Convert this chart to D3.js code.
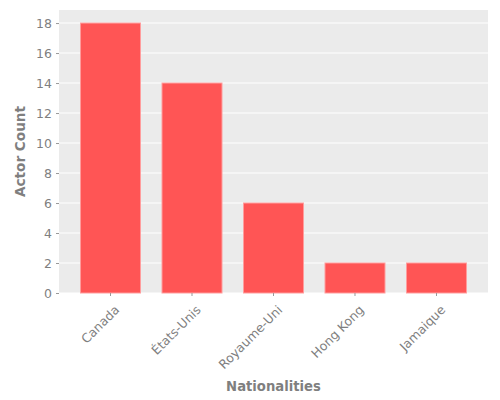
<!DOCTYPE html>
<meta charset="utf-8">
<style>
body { margin: 0; background: #fff; }
text { font-family: "DejaVu Sans", sans-serif; }
</style>
<body>
<svg width="500" height="400"></svg>
<script src="https://d3js.org/d3.v7.min.js"></script>
<script>
var nationalities = ["Canada", "États-Unis", "Royaume-Uni", "Hong Kong", "Jamaique"];
var actorCounts = [18, 14, 6, 2, 2];
var yTicks = [0, 2, 4, 6, 8, 10, 12, 14, 16, 18];

var svg = d3.select("svg"),
    margin = {top: 10, right: 12, bottom: 107, left: 59},
    width = 500 - margin.left - margin.right,
    height = 400 - margin.top - margin.bottom,
    g = svg.append("g").attr("transform", "translate(" + margin.left + "," + margin.top + ")");

var x = d3.scaleBand()
    .domain(nationalities)
    .range([0, width])
    .padding(0.264);

var y = d3.scaleLinear()
    .domain([0, 18.87])
    .range([height, 0]);

// panel background
g.append("rect")
    .attr("width", width)
    .attr("height", height)
    .attr("fill", "#ebebeb");

// gridlines
g.selectAll(".grid")
    .data(yTicks)
  .enter().append("line")
    .attr("x1", 0)
    .attr("x2", width)
    .attr("y1", function(d) { return y(d); })
    .attr("y2", function(d) { return y(d); })
    .attr("stroke", "#fff")
    .attr("stroke-width", 1.1);

// bars
g.selectAll(".bar")
    .data(actorCounts)
  .enter().append("rect")
    .attr("x", function(d, i) { return x(nationalities[i]); })
    .attr("width", x.bandwidth())
    .attr("y", function(d) { return y(d); })
    .attr("height", function(d) { return height - y(d); })
    .attr("fill", "#ff5555")
    .attr("stroke", "#ff9d9d")
    .attr("stroke-width", 1);

// y axis
var yAxis = g.append("g")
    .call(d3.axisLeft(y).tickValues(yTicks).tickSize(3).tickPadding(4));
yAxis.select(".domain").remove();
yAxis.selectAll("line").attr("stroke", "#999");
yAxis.selectAll("text").attr("fill", "#7f7f7f").attr("font-size", 12.5);

// x axis
var xAxis = g.append("g")
    .attr("transform", "translate(0," + height + ")")
    .call(d3.axisBottom(x).tickSize(3).tickPadding(3));
xAxis.select(".domain").remove();
xAxis.selectAll("line").attr("stroke", "#999");
xAxis.selectAll("text")
    .attr("fill", "#7f7f7f")
    .attr("font-size", 12.5)
    .attr("text-anchor", "end")
    .attr("dy", "0.5em")
    .attr("transform", "translate(1,9) rotate(-45)");

// axis titles
svg.append("text")
    .attr("x", margin.left + width / 2)
    .attr("y", 391)
    .attr("text-anchor", "middle")
    .attr("font-size", 13.2)
    .attr("font-weight", "bold")
    .attr("fill", "#7f7f7f")
    .text("Nationalities");

svg.append("text")
    .attr("transform", "translate(25," + (margin.top + height / 2) + ") rotate(-90)")
    .attr("text-anchor", "middle")
    .attr("font-size", 13.6)
    .attr("font-weight", "bold")
    .attr("fill", "#7f7f7f")
    .text("Actor Count");
</script>
</body>
